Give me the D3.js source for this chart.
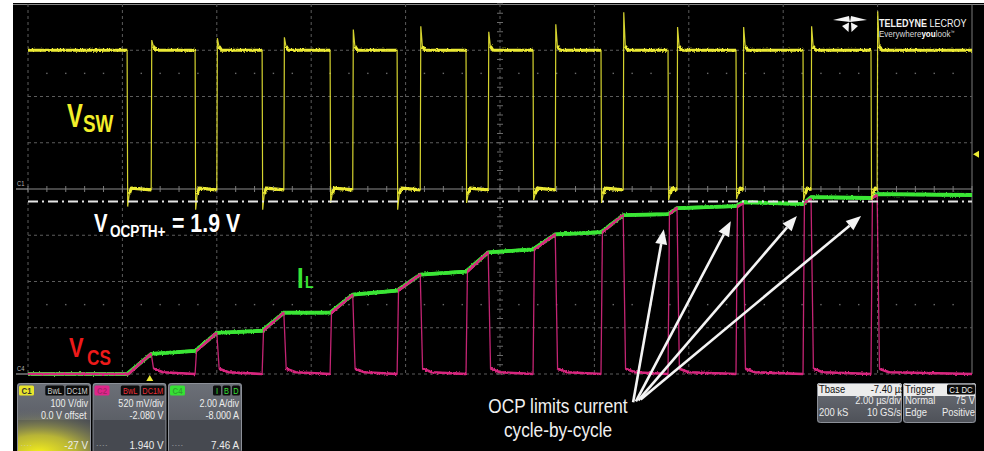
<!DOCTYPE html>
<html>
<head>
<meta charset="utf-8">
<script src="https://cdn.jsdelivr.net/npm/d3@7"></script>
<style>
  html, body { margin: 0; padding: 0; background: #fff; }
  svg { display: block; }
</style>
</head>
<body>
<svg id="scope" width="984" height="451"></svg>
<script>
// ---- acquisition: time in µs from the left edge of the screen (2 µs/div) ----
// switch-node edges (µs)
const swFall = [2.10, 3.54, 4.96, 6.40, 7.82, 9.28, 10.70, 12.14, 13.56, 15.00, 16.42, 17.86];
const swRise = [2.61, 4.00, 5.42, 6.88, 8.31, 9.75, 11.17, 12.61, 13.75, 15.15, 16.59, 17.99];
// switch-node levels and edge overshoot (V)
const swHigh = 300;
const swLow = -2;
const swRiseSpike = [322, 326, 328, 345, 352, 340, 356, 382, 350, 350, 352, 384];
const swFallSpike = [-38, -45, -45, -30, -45, -30, -24, -30, -24, -22, -24, -24];
// inductor current at the start / end of every on-time (A)
const ilStart = [0.00, 1.00, 1.87, 2.65, 3.61, 4.43, 5.39, 6.13, 6.91, 7.26, 7.35, 7.61];
const ilPeak  = [0.87, 1.78, 2.65, 3.43, 4.30, 5.26, 6.04, 6.87, 7.17, 7.43, 7.65, 7.78];
const ilEnd = 7.74;
// current-sense voltage at the start / end of every on-time (V)
const vcsStart = [0.00, 0.26, 0.49, 0.69, 0.94, 1.15, 1.40, 1.59, 1.80, 1.88, 1.92, 1.98];
const vcsPeak  = [0.23, 0.46, 0.69, 0.89, 1.12, 1.37, 1.57, 1.79, 1.87, 1.92, 1.97, 2.01];
// over-current threshold (V on C2)
const vOcp = 1.94;
// annotation arrows: tips on the current trace (µs, A), tails near the caption (µs, A)
const arrowTipT = [13.47, 14.89, 16.29, 17.65];
const arrowTipI = [6.26, 6.61, 6.83, 6.83];
const arrowTailT = [12.82, 12.88, 12.93, 12.98];
const arrowTailI = [-1.22, -1.18, -1.14, -1.10];

// ---- channel settings shown in the info boxes ----
const chanBoxes = [
  { name: "C1", color: "#e8e42c", flags: ["BwL", "DC1M"], flagColor: "#cfcfcf", rows: ["100 V/div", "0.0 V offset"], reading: "-27 V", glow: true },
  { name: "C2", color: "#e0248a", flags: ["BwL", "DC1M"], flagColor: "#e8303a", rows: ["520 mV/div", "-2.080 V"], reading: "1.940 V", glow: false },
  { name: "C4", color: "#36e034", flags: ["I", "B", "D"], flagColor: "#36e034", rows: ["2.00 A/div", "-8.000 A"], reading: "7.46 A", glow: false }
];
const tbaseRows = [["Tbase", "-7.40 µs"], ["", "2.00 µs/div"], ["200 kS", "10 GS/s"]];
const trigRows = [["Trigger", "C1 DC"], ["Normal", "75 V"], ["Edge", "Positive"]];

// ---- colours ----
const colSw = "#ecea34", colIl = "#3ae636", colCs = "#d8287f";

const svg = d3.select("#scope");
const FONT = '"Liberation Sans", Arial, sans-serif';
const SX = 0.82;   // condensed face

// condensed text helper: anchored at (xp, yp), squeezed horizontally
function ntext(parent, xp, yp, str, size, opts = {}) {
  const t = parent.append("text")
    .attr("transform", `translate(${xp},${yp}) scale(${opts.sx || SX},1)`)
    .attr("font-family", FONT).attr("font-size", size)
    .attr("fill", opts.fill || "#fff")
    .attr("text-anchor", opts.anchor || "start");
  if (opts.bold) t.attr("font-weight", "bold");
  if (str !== null) t.text(str);
  return t;
}

// scales: one time axis, one vertical scale per channel (8 divisions)
const x = d3.scaleLinear().domain([0, 20]).range([28, 972]);
const ySw = d3.scaleLinear().domain([-400, 400]).range([374, 4]);     // 100 V/div, 0 V at centre
const yCs = d3.scaleLinear().domain([0, 4.16]).range([374, 4]);       // 520 mV/div, offset -2.08 V
const yIl = d3.scaleLinear().domain([0, 16]).range([374, 4]);         // 2 A/div, offset -8 A

const defs = svg.append("defs");
const jit = defs.append("filter").attr("id", "jit")
  .attr("filterUnits", "userSpaceOnUse").attr("x", 0).attr("y", 0).attr("width", 984).attr("height", 451);
jit.append("feTurbulence").attr("type", "fractalNoise").attr("baseFrequency", "0.9 0.7").attr("numOctaves", 2).attr("seed", 3).attr("result", "n");
jit.append("feDisplacementMap").attr("in", "SourceGraphic").attr("in2", "n").attr("scale", 2.8)
  .attr("xChannelSelector", "R").attr("yChannelSelector", "G");
const soft = defs.append("filter").attr("id", "soft");
soft.append("feGaussianBlur").attr("stdDeviation", 0.35);

// ---- screen ----
svg.append("rect").attr("width", 984).attr("height", 451).attr("fill", "#fff");
svg.append("rect").attr("x", 13).attr("y", 3).attr("width", 971).attr("height", 448).attr("fill", "#000");
svg.append("line").attr("x1", 13).attr("x2", 984).attr("y1", 4.5).attr("y2", 4.5).attr("stroke", "#8a8a8a").attr("stroke-width", 1.2);

// ---- graticule ----
const grid = svg.append("g");
const vDivs = d3.range(0, 20.001, 2);
const hDivs = d3.range(-400, 400.001, 100);
grid.selectAll(".vg").data(vDivs).join("line")
  .attr("x1", d => x(d)).attr("x2", d => x(d))
  .attr("y1", ySw(400)).attr("y2", ySw(-400))
  .attr("stroke", d => d === 20 ? "#7a7a7a" : "#5c5c5c")
  .attr("stroke-width", 1)
  .attr("stroke-dasharray", d => d === 20 ? null : "3,3");
grid.selectAll(".hg").data(hDivs.filter(d => d !== 400 && d !== 0)).join("line")
  .attr("x1", x(0)).attr("x2", x(20))
  .attr("y1", d => ySw(d)).attr("y2", d => ySw(d))
  .attr("stroke", "#5c5c5c").attr("stroke-width", 1).attr("stroke-dasharray", "3,3");
// centre axes with minor ticks
grid.append("line").attr("x1", x(0)).attr("x2", x(20)).attr("y1", ySw(0)).attr("y2", ySw(0))
  .attr("stroke", "#8c8c8c").attr("stroke-width", 1.2);
grid.selectAll(".ht").data(d3.range(0, 20.001, 0.4)).join("line")
  .attr("x1", d => x(d)).attr("x2", d => x(d)).attr("y1", ySw(0) - 3).attr("y2", ySw(0) + 3)
  .attr("stroke", "#7a7a7a").attr("stroke-width", 1);
grid.selectAll(".vt").data(d3.range(-400, 400.001, 20)).join("line")
  .attr("x1", x(10) - 3).attr("x2", x(10) + 3).attr("y1", d => ySw(d)).attr("y2", d => ySw(d))
  .attr("stroke", "#6a6a6a").attr("stroke-width", 1);
// dotted rows
[250, -250].forEach(lv => {
  grid.selectAll(null).data(d3.range(0, 20.001, 0.4).filter(t => Math.abs(t / 2 - Math.round(t / 2)) > 0.01)).join("rect")
    .attr("x", d => x(d) - 0.7).attr("y", ySw(lv) - 0.7).attr("width", 1.4).attr("height", 1.4).attr("fill", "#6a6a6a");
});

// channel ground markers on the left edge
const markers = svg.append("g");
ntext(markers, 17, ySw(0) - 3, "C1", 7, { fill: "#b8b8b8" });
markers.append("line").attr("x1", 16).attr("x2", x(0)).attr("y1", ySw(0)).attr("y2", ySw(0)).attr("stroke", "#b8b8b8");
ntext(markers, 17, yIl(0) - 3, "C4", 7, { fill: "#b8b8b8" });
markers.append("line").attr("x1", 16).attr("x2", x(0)).attr("y1", yIl(0)).attr("y2", yIl(0)).attr("stroke", "#b8b8b8");

// ---- traces ----
// point lists; {gap:true} breaks the heavy (slow-segment) overlay at fast edges
const swPts = [{ t: 0, v: swHigh }];
swFall.forEach((tf, k) => {
  const tr = swRise[k];
  swPts.push({ t: tf, v: swHigh }, { gap: true },
             { t: tf + 0.012, v: swFallSpike[k] }, { gap: true },
             { t: tf + 0.045, v: swLow - 9 }, { t: tf + 0.09, v: swLow + 4 }, { t: tr, v: swLow }, { gap: true },
             { t: tr + 0.012, v: swRiseSpike[k] }, { gap: true },
             { t: tr + 0.045, v: swHigh + 9 }, { t: tr + 0.1, v: swHigh });
});
swPts.push({ t: 20, v: swHigh });

const ilPts = [{ t: 0, v: 0 }];
swFall.forEach((tf, k) => {
  ilPts.push({ t: tf, v: ilStart[k] }, { t: swRise[k], v: ilPeak[k] });
});
ilPts.push({ t: 20, v: ilEnd });

const csPts = [{ t: 0, v: 0 }];
swFall.forEach((tf, k) => {
  const tr = swRise[k];
  csPts.push({ t: tf, v: 0 });
  if (vcsStart[k] > 0) csPts.push({ gap: true });
  csPts.push({ t: tf + 0.03, v: vcsStart[k] }, { t: tr, v: vcsPeak[k] }, { gap: true },
             { t: tr + 0.05, v: 0.06 }, { t: tr + 0.25, v: 0.02 });
});
csPts.push({ t: 20, v: 0 });

function drawTrace(pts, yScale, color, thin, thick, parent) {
  const solid = pts.filter(p => !p.gap);
  const ln = d3.line().x(p => x(p.t)).y(p => yScale(p.v));
  const lnGap = d3.line().defined(p => !p.gap).x(p => x(p.t)).y(p => yScale(p.v));
  parent.append("path").attr("d", ln(solid)).attr("fill", "none")
    .attr("stroke", color).attr("stroke-width", thin).attr("stroke-opacity", 0.9);
  parent.append("path").attr("d", lnGap(pts)).attr("fill", "none")
    .attr("stroke", color).attr("stroke-width", thick).attr("stroke-linejoin", "round")
    .attr("filter", "url(#jit)");
}
const traces = svg.append("g").attr("filter", "url(#soft)");
drawTrace(ilPts, yIl, colIl, 3.4, 3.8, traces);
drawTrace(csPts, yCs, colCs, 1.3, 2.6, traces);
drawTrace(swPts, ySw, colSw, 1.2, 3.2, traces);

// OCP threshold (dash-dot)
svg.append("line").attr("x1", x(0)).attr("x2", x(20)).attr("y1", yCs(vOcp)).attr("y2", yCs(vOcp))
  .attr("stroke", "#e6e6e6").attr("stroke-width", 2).attr("stroke-dasharray", "10,4,2,4");

// trigger position / level markers
svg.append("path").attr("d", `M${x(2.58)},${yIl(0) + 1} l-3.5,6 h7 z`).attr("fill", colSw);
svg.append("path").attr("d", `M${x(20) + 1},${ySw(75)} l6,-3.5 v7 z`).attr("fill", colSw);

// ---- trace labels ----
const lab = svg.append("g");
ntext(lab, 67, 127, "V", 33, { fill: "#f2ee2a", bold: true, sx: 0.72 });
ntext(lab, 83, 132, "SW", 23, { fill: "#f2ee2a", bold: true });
ntext(lab, 94, 232, "V", 26, { fill: "#ffffff", bold: true, sx: 0.78 });
ntext(lab, 110, 237, "OCPTH+", 17, { fill: "#ffffff", bold: true, sx: 0.8 });
ntext(lab, 172, 232, "= 1.9 V", 26, { fill: "#ffffff", bold: true });
ntext(lab, 297, 288, "I", 29, { fill: "#3ae636", bold: true });
ntext(lab, 305, 288, "L", 17, { fill: "#3ae636", bold: true });
ntext(lab, 69, 357, "V", 28, { fill: "#ee1a1a", bold: true, sx: 0.78 });
ntext(lab, 87, 365, "CS", 22, { fill: "#ee1a1a", bold: true, sx: 0.78 });

// ---- annotation ----
const ann = svg.append("g");
arrowTipT.forEach((tt, i) => {
  const x2 = x(tt), y2 = yIl(arrowTipI[i]);
  const x1 = x(arrowTailT[i]), y1 = yIl(arrowTailI[i]);
  const a = Math.atan2(y2 - y1, x2 - x1), hl = 15, hw = 6;
  const bx = x2 - hl * Math.cos(a), by = y2 - hl * Math.sin(a);
  ann.append("line").attr("x1", x1).attr("y1", y1).attr("x2", bx).attr("y2", by)
    .attr("stroke", "#f4f4f4").attr("stroke-width", 2.6);
  ann.append("path").attr("fill", "#f4f4f4")
    .attr("d", `M${x2},${y2} L${bx + hw * Math.sin(a)},${by - hw * Math.cos(a)} L${bx - hw * Math.sin(a)},${by + hw * Math.cos(a)} Z`);
});
ntext(ann, 558, 413, "OCP limits current", 21, { fill: "#f0f0f0", anchor: "middle" });
ntext(ann, 558, 437, "cycle-by-cycle", 21, { fill: "#f0f0f0", anchor: "middle" });

// ---- logo ----
const logo = svg.append("g");
logo.append("path").attr("fill", "#f4f4f4").attr("d",
  "M833,20 L849,16 L850,22 Z M867,20 L851,16 L850,22 Z M842,26 L849,22.5 L848.5,32 Z M858,26 L851,22.5 L851.5,32 Z");
const lt = ntext(logo, 879, 27, null, 11, { fill: "#f4f4f4" });
lt.append("tspan").attr("font-weight", "bold").text("TELEDYNE ");
lt.append("tspan").text("LECROY");
const lt2 = ntext(logo, 879, 37, null, 9.8, { fill: "#d8d8d8" });
lt2.append("tspan").text("Everywhere");
lt2.append("tspan").attr("font-weight", "bold").attr("fill", "#fff").text("you");
lt2.append("tspan").text("look");
lt2.append("tspan").attr("font-size", 5).attr("dy", -3).text("™");

// ---- channel info boxes ----
const grad = defs.append("linearGradient").attr("id", "boxg").attr("x1", 0).attr("y1", 0).attr("x2", 0).attr("y2", 1);
grad.append("stop").attr("offset", 0).attr("stop-color", "#6c7078");
grad.append("stop").attr("offset", 1).attr("stop-color", "#4e5158");
const glow = defs.append("radialGradient").attr("id", "glow").attr("cx", 0.3).attr("cy", 1.0).attr("r", 0.9)
  .attr("gradientTransform", "translate(0.3,1) scale(1.4,0.8) translate(-0.3,-1)");
glow.append("stop").attr("offset", 0).attr("stop-color", "#f6f01a").attr("stop-opacity", 1);
glow.append("stop").attr("offset", 0.4).attr("stop-color", "#d4cf30").attr("stop-opacity", 0.8);
glow.append("stop").attr("offset", 1).attr("stop-color", "#6c7078").attr("stop-opacity", 0);

const boxW = 74, boxGap = 1.5, boxX0 = 17, boxY = 383, boxH = 70;
const rowFont = 10.5;
chanBoxes.forEach((c, i) => {
  const bx = boxX0 + i * (boxW + boxGap);
  const g = svg.append("g");
  const cid = "clip" + i;
  defs.append("clipPath").attr("id", cid).append("rect").attr("x", bx).attr("y", boxY).attr("width", boxW).attr("height", boxH).attr("rx", 3);
  const inner = g.append("g").attr("clip-path", `url(#${cid})`);
  inner.append("rect").attr("x", bx).attr("y", boxY).attr("width", boxW).attr("height", boxH).attr("fill", "url(#boxg)");
  inner.append("rect").attr("x", bx).attr("y", boxY + 37).attr("width", boxW).attr("height", boxH - 37).attr("fill", "#464950");
  if (c.glow) inner.append("rect").attr("x", bx).attr("y", boxY + 8).attr("width", boxW).attr("height", boxH - 8).attr("fill", "url(#glow)");
  inner.append("rect").attr("x", bx + 0.5).attr("y", boxY + 0.5).attr("width", boxW - 1).attr("height", boxH).attr("rx", 3)
    .attr("fill", "none").attr("stroke", "#8c9098").attr("stroke-width", 1);
  // header tags
  inner.append("rect").attr("x", bx + 2).attr("y", boxY + 2.5).attr("width", 15).attr("height", 10).attr("rx", 1.5).attr("fill", c.color);
  ntext(inner, bx + 9.5, boxY + 10.5, c.name, 9.5, { anchor: "middle", bold: true, fill: c.name === "C1" ? "#333" : "rgba(40,40,40,0.35)" });
  let fx = bx + boxW - 2;
  c.flags.slice().reverse().forEach(f => {
    const w = f.length > 1 ? 5 + f.length * 4.6 : 8;
    fx -= w;
    inner.append("rect").attr("x", fx).attr("y", boxY + 2.5).attr("width", w).attr("height", 10).attr("rx", 1.5).attr("fill", "#0c0c0c");
    ntext(inner, fx + w / 2, boxY + 10.5, f, 9, { anchor: "middle", fill: c.flagColor });
    fx -= 1.5;
  });
  ntext(inner, bx + boxW - 3, boxY + 23.5, c.rows[0], rowFont, { anchor: "end", fill: "#ececec", sx: 0.86 });
  if (c.name === "C1") {
    ntext(inner, bx + 24, boxY + 35.5, c.rows[1], rowFont, { fill: "#ececec", sx: 0.86 });
  } else {
    ntext(inner, bx + boxW - 3, boxY + 35.5, c.rows[1], rowFont, { anchor: "end", fill: "#ececec", sx: 0.86 });
  }
  ntext(inner, bx + boxW - 3, boxY + 66, c.reading, rowFont + 1, { anchor: "end", fill: "#ececec", sx: 0.86 });
  ntext(inner, bx + 4, boxY + 64, "- - - -", 6, { fill: "#d0d0d0" });
});

// ---- timebase / trigger boxes ----
function infoBox(bx, bw, rows, darkTag) {
  const g = svg.append("g");
  const cid = "clipi" + bx;
  defs.append("clipPath").attr("id", cid).append("rect").attr("x", bx).attr("y", 383).attr("width", bw).attr("height", 40).attr("rx", 3);
  const inner = g.append("g").attr("clip-path", `url(#${cid})`);
  inner.append("rect").attr("x", bx).attr("y", 383).attr("width", bw).attr("height", 40).attr("fill", "url(#boxg)");
  inner.append("rect").attr("x", bx).attr("y", 383).attr("width", bw).attr("height", 13).attr("fill", "#ececec");
  inner.append("rect").attr("x", bx + 0.5).attr("y", 383.5).attr("width", bw - 1).attr("height", 39).attr("rx", 3)
    .attr("fill", "none").attr("stroke", "#8c9098");
  rows.forEach((r, j) => {
    const yy = 393 + j * 11.3;
    const head = j === 0;
    const fs = 10;
    if (r[0]) ntext(inner, bx + 2, yy, r[0], fs + 0.5, { fill: head ? "#111" : "#ececec", sx: 0.9 });
    if (head && darkTag) {
      inner.append("rect").attr("x", bx + bw - 29).attr("y", 384.5).attr("width", 28).attr("height", 10).attr("rx", 1.5).attr("fill", "#0c0c0c");
      ntext(inner, bx + bw - 15, yy, r[1], 9.5, { anchor: "middle", fill: "#f0f0f0" });
    } else {
      ntext(inner, bx + bw + (head ? 3 : -1), yy, r[1], fs + 0.5, { anchor: "end", fill: head ? "#111" : "#ececec", sx: 0.9 });
    }
  });
}
infoBox(817, 85, tbaseRows, false);
infoBox(903, 73, trigRows, true);
</script>
</body>
</html>
